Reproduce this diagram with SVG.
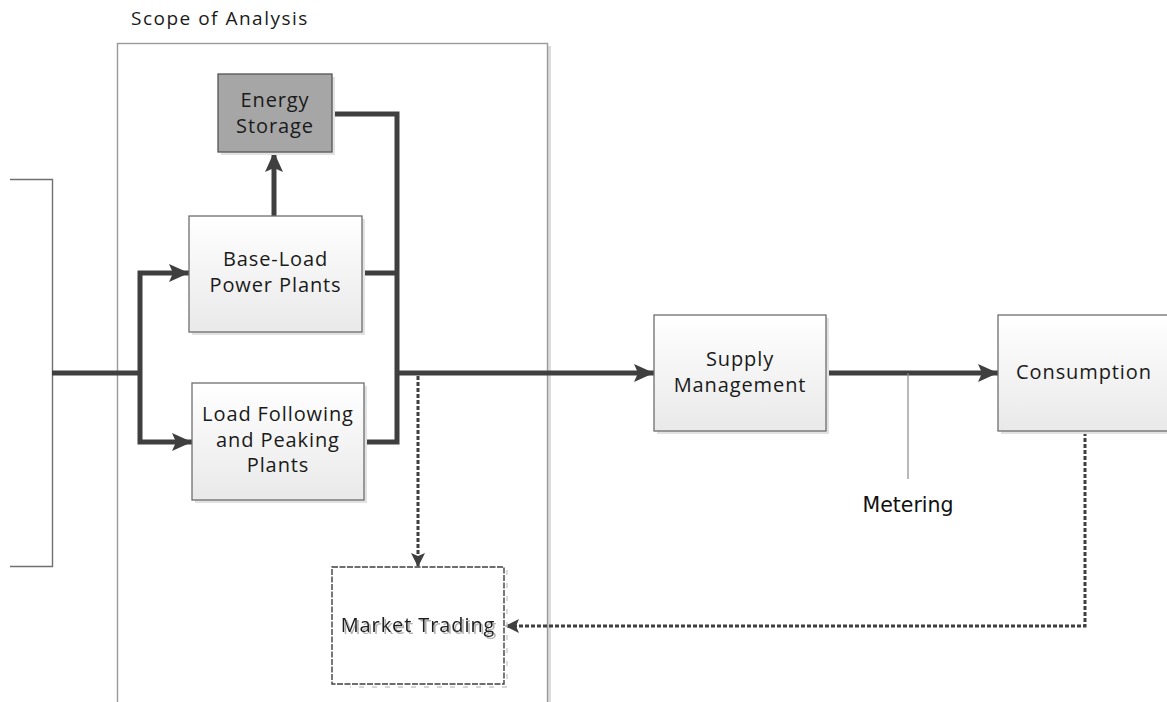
<svg xmlns="http://www.w3.org/2000/svg" width="1167" height="702" viewBox="0 0 1167 702">
  <defs>
    <linearGradient id="boxFill" x1="0" y1="0" x2="0" y2="1">
      <stop offset="0" stop-color="#ffffff"/>
      <stop offset="1" stop-color="#e9e9e9"/>
    </linearGradient>
    <marker id="arrowBig" markerUnits="userSpaceOnUse" markerWidth="22" markerHeight="20" refX="20" refY="9" orient="auto">
      <path d="M0,0 L20,9 L0,18 L4,9 Z" fill="#3f3f3f"/>
    </marker>
    <marker id="arrowSmall" markerUnits="userSpaceOnUse" markerWidth="16" markerHeight="16" refX="14" refY="7" orient="auto">
      <path d="M0,0 L14,7 L0,14 L3,7 Z" fill="#3f3f3f"/>
    </marker>
    <filter id="textShadow" x="-10%" y="-30%" width="130%" height="180%">
      <feOffset in="SourceAlpha" dx="2" dy="2" result="off"/>
      <feFlood flood-color="#b0b0b0"/>
      <feComposite in2="off" operator="in" result="shadow"/>
      <feMerge>
        <feMergeNode in="shadow"/>
        <feMergeNode in="SourceGraphic"/>
      </feMerge>
    </filter>
  </defs>
  <style>
    .box { fill: url(#boxFill); stroke: #6e6e6e; stroke-width: 1.3; }
    .shadow { fill: #e2e2e2; }
    .label { font-family: "Open Sans", "Noto Sans", sans-serif; font-size: 20px; letter-spacing: 0.9px; fill: #1a1a1a; text-anchor: middle; }
    .thick { fill: none; stroke: #3f3f3f; stroke-width: 5; stroke-linejoin: miter; }
    .dashed { fill: none; stroke: #3f3f3f; stroke-width: 3; stroke-dasharray: 4 2; }
    .thin { fill: none; stroke: #707070; stroke-width: 1.4; }
  </style>

  <rect width="1167" height="702" fill="#ffffff"/>

  <!-- scope frame -->
  <g id="scope">
    <rect x="548" y="46" width="3" height="660" fill="#dcdcdc"/>
    <rect x="117.5" y="43.5" width="430" height="680" fill="none" stroke="#9a9a9a" stroke-width="1.4"/>
    <text x="131" y="25" font-family="'Open Sans', 'Noto Sans', sans-serif" font-size="19" letter-spacing="1.5" fill="#1a1a1a">Scope of Analysis</text>
  </g>

  <!-- source bracket on the left -->
  <g id="source">
    <path class="thin" d="M10,179.5 H52.5 V566.5 H10"/>
  </g>

  <!-- connectors -->
  <g id="connectors">
    <path class="thick" d="M52,373 H140"/>
    <path class="thick" d="M140,373 V273 H189" marker-end="url(#arrowBig)"/>
    <path class="thick" d="M140,373 V442 H192" marker-end="url(#arrowBig)"/>
    <path class="thick" d="M274,216 V152" marker-end="url(#arrowBig)"/>
    <path class="thick" d="M332,114 H397 V442 H364"/>
    <path class="thick" d="M362,273 H397"/>
    <path class="thick" d="M397,373 H654" marker-end="url(#arrowBig)"/>
    <path class="dashed" d="M418,376 V567" marker-end="url(#arrowSmall)"/>
    <path class="thick" d="M826,373 H998" marker-end="url(#arrowBig)"/>
    <path d="M908,373 V479" fill="none" stroke="#8a8a8a" stroke-width="1.2"/>
    <path class="dashed" d="M1085,432 V626 H505" marker-end="url(#arrowSmall)"/>
  </g>

  <g id="energy-storage">
    <rect class="shadow" x="221" y="77" width="114" height="78"/>
    <rect x="218" y="74" width="114" height="78" fill="#a6a6a6" stroke="#555555" stroke-width="1.3"/>
    <text class="label" x="275" y="107">Energy</text>
    <text class="label" x="275" y="133">Storage</text>
  </g>

  <g id="base-load">
    <rect class="shadow" x="192" y="219" width="173" height="116"/>
    <rect class="box" x="189" y="216" width="173" height="116"/>
    <text class="label" font-size="21" x="275.5" y="266">Base-Load</text>
    <text class="label" font-size="21" x="275.5" y="292">Power Plants</text>
  </g>

  <g id="load-following">
    <rect class="shadow" x="195" y="386" width="172" height="117"/>
    <rect class="box" x="192" y="383" width="172" height="117"/>
    <text class="label" font-size="21" x="278" y="421">Load Following</text>
    <text class="label" font-size="21" x="278" y="447">and Peaking</text>
    <text class="label" font-size="21" x="278" y="472">Plants</text>
  </g>

  <g id="market-trading">
    <path d="M507,570 V687 H350" fill="none" stroke="#c8c8c8" stroke-width="1.3" stroke-dasharray="5 8"/>
    <rect x="332" y="567" width="172" height="117" fill="#ffffff" stroke="#3f3f3f" stroke-width="1.4" stroke-dasharray="6 1.5"/>
    <text class="label" x="418" y="632" filter="url(#textShadow)">Market Trading</text>
  </g>

  <g id="supply-management">
    <rect class="shadow" x="657" y="318" width="172" height="116"/>
    <rect class="box" x="654" y="315" width="172" height="116"/>
    <text class="label" font-size="21" x="740" y="366">Supply</text>
    <text class="label" font-size="21" x="740" y="392">Management</text>
  </g>

  <g id="consumption">
    <rect class="shadow" x="1001" y="318" width="172" height="116"/>
    <rect class="box" x="998" y="315" width="172" height="116"/>
    <text class="label" font-size="21" x="1084" y="379">Consumption</text>
  </g>

  <g id="metering">
    <text x="908" y="512" font-family="'DejaVu Sans', sans-serif" font-size="20.5" fill="#111111" text-anchor="middle">Metering</text>
  </g>
</svg>
